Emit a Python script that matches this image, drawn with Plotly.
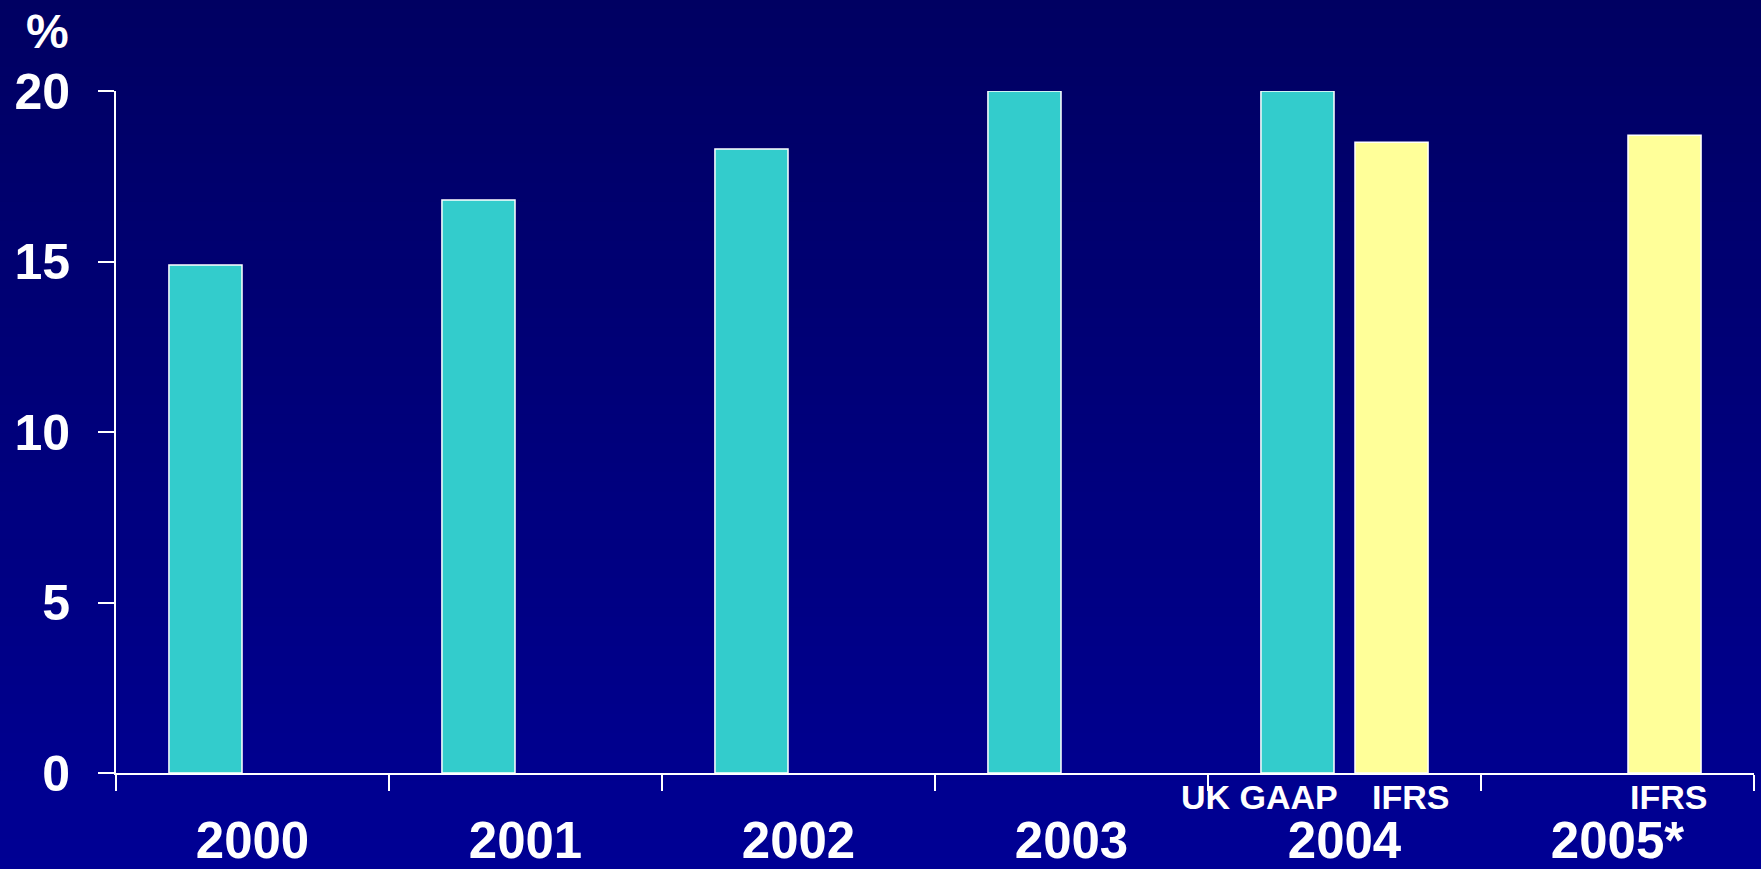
import plotly.graph_objects as go

# ---- data -------------------------------------------------------------
years = ["2000", "2001", "2002", "2003", "2004", "2005*"]
series_names = ["UK GAAP", "IFRS"]
uk_gaap = [14.9, 16.8, 18.3, 20.0, 20.0, None]
ifrs = [None, None, None, None, 18.5, 18.7]
y_ticks = [0, 5, 10, 15, 20]

# sub-labels under the 2004 / 2005 groups: (category index offset, text)
sub_labels = [(4 - 0.31, "UK GAAP"), (4 + 0.24, "IFRS"), (5 + 0.185, "IFRS")]

# ---- geometry ---------------------------------------------------------
W, H = 1761, 869
ML, MR, MT, MB = 116, 7, 91, 96
PW, PH = W - ML - MR, H - MT - MB

FONT = "Liberation Sans, Arial, Helvetica, sans-serif"
TEAL = "#33CCCC"
YELLOW = "#FFFF99"

fig = go.Figure()
fig.add_trace(go.Bar(x=years, y=uk_gaap, name=series_names[0],
                     marker=dict(color=TEAL, line=dict(color="white", width=1.5))))
fig.add_trace(go.Bar(x=years, y=ifrs, name=series_names[1],
                     marker=dict(color=YELLOW, line=dict(color="white", width=1.5))))

# vertical navy gradient behind everything
shapes = []
n_bands = 90
top_rgb = (0, 0, 98)
bot_rgb = (0, 0, 148)
for i in range(n_bands):
    t = i / (n_bands - 1)
    r = round(top_rgb[0] + (bot_rgb[0] - top_rgb[0]) * t)
    g = round(top_rgb[1] + (bot_rgb[1] - top_rgb[1]) * t)
    b = round(top_rgb[2] + (bot_rgb[2] - top_rgb[2]) * t)
    p0 = H * i / n_bands - 1
    p1 = H * (i + 1) / n_bands + 1
    shapes.append(dict(
        type="rect", xref="paper", yref="paper", layer="below",
        x0=-ML / PW - 0.01, x1=(W - ML) / PW + 0.01,
        y0=(H - MB - p1) / PH, y1=(H - MB - p0) / PH,
        line=dict(width=0), fillcolor=f"rgb({r},{g},{b})",
    ))

annotations = [dict(
    text="%", xref="paper", yref="paper",
    x=(47 - ML) / PW, y=(H - MB - 31) / PH,
    xanchor="center", yanchor="middle", showarrow=False,
    font=dict(family=FONT, size=48, color="white", weight="bold"),
)]
for xpos, txt in sub_labels:
    annotations.append(dict(
        text=txt, xref="x", yref="y", x=xpos, y=0,
        xanchor="center", yanchor="middle", yshift=-24, showarrow=False,
        font=dict(family=FONT, size=34, color="white", weight="bold"),
    ))

fig.update_layout(
    width=W, height=H,
    margin=dict(l=ML, r=MR, t=MT, b=MB, pad=0),
    paper_bgcolor="#000090", plot_bgcolor="rgba(0,0,0,0)",
    barmode="group", bargap=0.311, bargroupgap=0.223,
    showlegend=False,
    shapes=shapes, annotations=annotations,
    font=dict(family=FONT, color="white"),
)
fig.update_xaxes(
    type="category", tickson="boundaries", automargin=False,
    ticks="outside", ticklen=16, tickwidth=2, tickcolor="white",
    showline=True, linecolor="white", linewidth=2,
    showgrid=False, zeroline=False,
    tickfont=dict(family=FONT, size=51, color="white", weight="bold"),
    ticklabelstandoff=22,
)
fig.update_yaxes(
    range=[0, 20], tickvals=y_ticks, automargin=False,
    ticks="outside", ticklen=16, tickwidth=2, tickcolor="white",
    showline=True, linecolor="white", linewidth=2,
    showgrid=False, zeroline=False,
    tickfont=dict(family=FONT, size=50, color="white", weight="bold"),
    ticklabelstandoff=18,
)

fig.write_html("out.html")
